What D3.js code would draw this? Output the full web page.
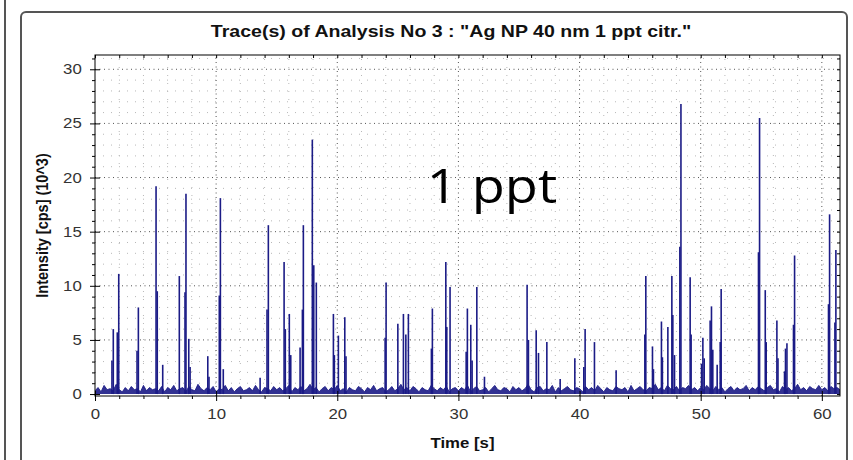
<!DOCTYPE html>
<html>
<head>
<meta charset="utf-8">
<script src="https://cdn.jsdelivr.net/npm/d3@7"></script>
<style>
  body { margin: 0; background: #fff; }
  text { font-family: "Liberation Sans", Arial, sans-serif; }
</style>
</head>
<body>
<div id="chart"></div>
<script>
// ---------------- data ----------------
// particle spikes: time [s] and intensity [10^3 cps], shoulders included
const peakTimes = [1.40, 1.51, 1.84, 1.96, 3.47, 3.58, 5.04, 5.14, 5.59, 6.96, 7.43, 7.51, 7.74, 7.85, 9.31, 9.41,
  10.26, 10.35, 10.59, 13.63, 14.20, 14.31, 15.61, 15.71, 16.04, 16.16, 16.93, 17.12, 17.20, 17.94, 18.06, 18.27,
  19.68, 19.76, 20.09, 20.62, 20.72, 23.95, 24.03, 25.00, 25.46, 25.66, 25.87, 27.77, 27.85, 28.96, 29.04, 29.31,
  30.64, 30.74, 31.02, 31.13, 31.52, 32.15, 35.67, 35.78, 36.42, 36.61, 37.30, 38.40, 39.61, 40.35, 40.46, 41.23,
  43.02, 45.39, 45.47, 46.02, 46.10, 46.76, 46.84, 47.29, 47.62, 47.70, 47.84, 48.28, 48.37, 49.13, 49.21, 50.07,
  50.18, 50.29, 50.78, 50.89, 51.00, 51.36, 51.61, 51.69, 54.77, 54.86, 55.33, 55.41, 56.29, 56.38, 56.92, 57.00,
  57.12, 57.66, 57.75, 60.55, 60.64, 61.08, 61.16];
const peakHeights = [3.1, 6.0, 5.7, 11.1, 4.0, 8.0, 19.2, 9.5, 2.7, 10.9, 9.4, 18.5, 5.1, 2.5, 3.5, 1.6,
  9.1, 18.1, 2.3, 1.5, 7.8, 15.6, 12.2, 6.0, 7.4, 3.6, 4.3, 7.8, 15.6, 23.5, 11.9, 10.3,
  7.4, 3.6, 5.4, 7.1, 3.5, 5.2, 10.3, 6.5, 7.4, 5.5, 7.4, 4.2, 7.9, 12.2, 6.2, 9.9,
  3.9, 7.9, 6.4, 3.1, 9.9, 1.6, 10.1, 5.0, 5.9, 3.8, 4.8, 1.4, 3.3, 2.5, 6.0, 4.8,
  2.2, 5.5, 10.9, 4.4, 2.3, 6.7, 3.4, 6.2, 10.9, 7.3, 3.6, 13.6, 26.8, 10.8, 5.5, 2.8,
  5.2, 3.3, 6.8, 8.1, 4.1, 2.7, 4.8, 9.7, 13.1, 25.5, 9.6, 4.8, 6.8, 3.3, 2.1, 4.2,
  4.7, 6.4, 12.8, 8.3, 16.6, 6.6, 13.3];

// background signal, one reading every 0.25 s
const noiseStep = 0.25;
const noiseLevels = [
  0.3,0.6,0.2,0.8,0.4,0.5,0.3,0.9,0.4,0.2,0.6,0.3,0.7,0.4,0.5,0.2,0.8,0.3,0.6,0.4,
  0.5,0.3,0.7,0.2,0.6,0.4,0.8,0.3,0.5,0.6,0.2,0.7,0.4,0.3,0.9,0.5,0.3,0.6,0.4,0.7,
  0.2,0.5,0.4,0.8,0.3,0.6,0.2,0.5,0.7,0.3,0.4,0.6,0.3,0.8,0.4,0.2,0.6,0.5,0.3,0.7,
  0.4,0.6,0.3,0.5,0.8,0.2,0.6,0.4,0.7,0.3,0.5,0.9,0.4,0.6,0.2,0.5,0.7,0.3,0.6,0.4,
  0.8,0.3,0.5,0.2,0.6,0.4,0.3,0.7,0.5,0.2,0.6,0.4,0.8,0.3,0.5,0.6,0.2,0.4,0.7,0.3,
  0.5,0.9,0.4,0.6,0.3,0.7,0.5,0.2,0.6,0.4,0.3,0.8,0.5,0.3,0.6,0.4,0.7,0.2,0.5,0.6,
  0.3,0.6,0.4,0.8,0.2,0.5,0.7,0.3,0.4,0.6,0.2,0.5,0.8,0.4,0.3,0.6,0.5,0.2,0.7,0.4,
  0.6,0.3,0.5,0.9,0.4,0.2,0.6,0.7,0.3,0.5,0.4,0.8,0.2,0.6,0.3,0.5,0.7,0.4,0.3,0.6,
  0.5,0.2,0.7,0.4,0.6,0.3,0.8,0.5,0.2,0.6,0.4,0.3,0.7,0.5,0.4,0.6,0.2,0.8,0.3,0.5,
  0.7,0.4,0.3,0.6,0.5,0.9,0.4,0.6,0.3,0.8,0.5,0.4,0.7,0.3,0.6,0.5,0.8,0.4,0.6,0.3,
  0.6,0.4,0.8,0.5,0.3,0.7,0.4,0.6,0.2,0.5,0.7,0.3,0.6,0.4,0.5,0.8,0.3,0.6,0.4,0.7,
  0.5,0.3,0.6,0.8,0.4,0.5,0.2,0.7,0.4,0.6,0.3,0.5,0.9,0.4,0.6,0.3,0.7,0.5,0.4,0.8,
  0.4,0.6,0.3,0.7,0.5,0.6,0.4];

const xTickValues = [0, 10, 20, 30, 40, 50, 60];
const yTickValues = [0, 5, 10, 15, 20, 25, 30];
const titleText = 'Trace(s) of Analysis No 3 : "Ag NP 40 nm 1 ppt citr."';
const xLabel = "Time [s]";
const yLabel = "Intensity [cps] (10^3)";
const noteText = "1 ppt";

// ---------------- drawing ----------------
const W = 853, H = 460;
const margin = {top: 55, right: 13, bottom: 64, left: 95};
const traceColor = "#1b1b86";
const stretch = 1.2; // the screenshot is a bit wider than tall

const svg = d3.select("#chart").append("svg")
  .attr("width", W)
  .attr("height", H);

// panel frames (neighbour panel edge + this panel)
svg.append("line")
  .attr("x1", 5).attr("x2", 5).attr("y1", 0).attr("y2", H)
  .style("stroke", "#555").style("stroke-width", 2);
svg.append("rect")
  .attr("x", 21).attr("y", 12).attr("width", 826).attr("height", 470).attr("rx", 5)
  .style("fill", "none").style("stroke", "#555").style("stroke-width", 2);

const x = d3.scaleLinear().domain([0, 61.5]).range([margin.left, W - margin.right]);
const y = d3.scaleLinear().domain([-0.18, 31.32]).range([H - margin.bottom, margin.top]);

const [x0, x1] = x.range();
const [y0, y1] = y.range();

// grid: light dots for minor, darker dots for major
const grid = svg.append("g");
const xMinor = d3.range(2, 61.5, 2).filter(v => v % 10 !== 0);
const yMinor = d3.range(1, 31.3, 1).filter(v => v % 5 !== 0);

grid.selectAll(".xminor").data(xMinor).enter().append("line")
  .attr("x1", d => x(d)).attr("x2", d => x(d)).attr("y1", y0).attr("y2", y1)
  .style("stroke", "#b8b8b8").style("stroke-dasharray", "1,7");
grid.selectAll(".yminor").data(yMinor).enter().append("line")
  .attr("x1", x0).attr("x2", x1).attr("y1", d => y(d)).attr("y2", d => y(d))
  .style("stroke", "#b8b8b8").style("stroke-dasharray", "1,7");
grid.selectAll(".xmajor").data(xTickValues.slice(1)).enter().append("line")
  .attr("x1", d => x(d)).attr("x2", d => x(d)).attr("y1", y0).attr("y2", y1)
  .style("stroke", "#555").style("stroke-dasharray", "1,3.5");
grid.selectAll(".ymajor").data(yTickValues.slice(1)).enter().append("line")
  .attr("x1", x0).attr("x2", x1).attr("y1", d => y(d)).attr("y2", d => y(d))
  .style("stroke", "#555").style("stroke-dasharray", "1,3.5");

// clip the trace to the plot
svg.append("clipPath").attr("id", "plotclip")
  .append("rect").attr("x", x0).attr("y", y1).attr("width", x1 - x0).attr("height", y0 - y1);
const plot = svg.append("g").attr("clip-path", "url(#plotclip)");

// background band
const noise = noiseLevels.map((v, i) => ({t: i * noiseStep, v: v}));
plot.append("path")
  .datum(noise)
  .attr("d", d3.area().x(d => x(d.t)).y0(y(0)).y1(d => y(d.v)))
  .style("fill", traceColor).style("fill-opacity", 0.9);
plot.append("path")
  .datum(noise)
  .attr("d", d3.line().x(d => x(d.t)).y(d => y(d.v)))
  .style("fill", "none").style("stroke", traceColor).style("stroke-width", 0.9);

// spikes
plot.selectAll(".spike")
  .data(peakTimes.map((t, i) => ({t: t, v: peakHeights[i]})))
  .enter().append("line")
  .attr("class", "spike")
  .attr("x1", d => x(d.t)).attr("x2", d => x(d.t))
  .attr("y1", y(0)).attr("y2", d => y(d.v))
  .style("stroke", traceColor).style("stroke-width", 1.6);

// axes: major ticks cross the frame, minor ones sit outside
function styleAxis(g) {
  g.select(".domain").remove();
  g.selectAll("line").style("stroke", "#000");
}
svg.append("g")
  .attr("transform", `translate(0,${y0})`)
  .call(d3.axisBottom(x).tickValues(xMinor).tickSize(3).tickFormat(""))
  .call(styleAxis);
const xAxis = svg.append("g")
  .attr("transform", `translate(0,${y0})`)
  .call(d3.axisBottom(x).tickValues(xTickValues).tickSize(5).tickPadding(8))
  .call(styleAxis);
xAxis.selectAll("line").attr("y1", -5);

svg.append("g")
  .attr("transform", `translate(${x0},0)`)
  .call(d3.axisLeft(y).tickValues(yMinor).tickSize(3).tickFormat(""))
  .call(styleAxis);
const yAxis = svg.append("g")
  .attr("transform", `translate(${x0},0)`)
  .call(d3.axisLeft(y).tickValues(yTickValues).tickSize(5).tickPadding(8))
  .call(styleAxis);
yAxis.selectAll("line").attr("x1", 5);

// mirrored ticks on top and right
svg.append("g")
  .attr("transform", `translate(0,${y1})`)
  .call(d3.axisBottom(x).tickValues(xMinor.concat(xTickValues)).tickSize(3).tickFormat(""))
  .call(styleAxis);
svg.append("g")
  .attr("transform", `translate(${x1},0)`)
  .call(d3.axisLeft(y).tickValues(yMinor.concat(yTickValues)).tickSize(3).tickFormat(""))
  .call(styleAxis);

// tick labels
xAxis.selectAll("text")
  .style("font-size", "14px").style("fill", "#333")
  .attr("transform", `scale(${stretch},1)`);
yAxis.selectAll("text")
  .style("font-size", "14px").style("fill", "#333")
  .attr("x", -11)
  .attr("transform", `scale(${stretch},1)`);

// plot frame
svg.append("rect")
  .attr("x", x0).attr("y", y1).attr("width", x1 - x0).attr("height", y0 - y1)
  .style("fill", "none").style("stroke", "#000").style("stroke-width", 1);

// title
svg.append("text")
  .attr("transform", `translate(451,37) scale(${stretch},1)`)
  .attr("text-anchor", "middle")
  .style("font-size", "16.3px").style("font-weight", "bold").style("fill", "#111")
  .text(titleText);

// axis labels
svg.append("text")
  .attr("transform", `translate(${(x0 + x1) / 2 - 5},448) scale(${stretch},1)`)
  .attr("text-anchor", "middle")
  .style("font-size", "14px").style("font-weight", "bold").style("fill", "#111")
  .text(xLabel);
svg.append("text")
  .attr("transform", `translate(48,${(y0 + y1) / 2}) scale(${stretch},1) rotate(-90)`)
  .attr("text-anchor", "middle")
  .style("font-size", "14.5px").style("font-weight", "bold").style("fill", "#111")
  .text(yLabel);

// the big annotation
svg.append("text")
  .attr("transform", `translate(492,203) scale(1.15,1)`)
  .attr("text-anchor", "middle")
  .style("font-family", "'Open Sans', 'Noto Sans', sans-serif")
  .style("font-size", "47px").style("fill", "#000")
  .text(noteText);
</script>
</body>
</html>
